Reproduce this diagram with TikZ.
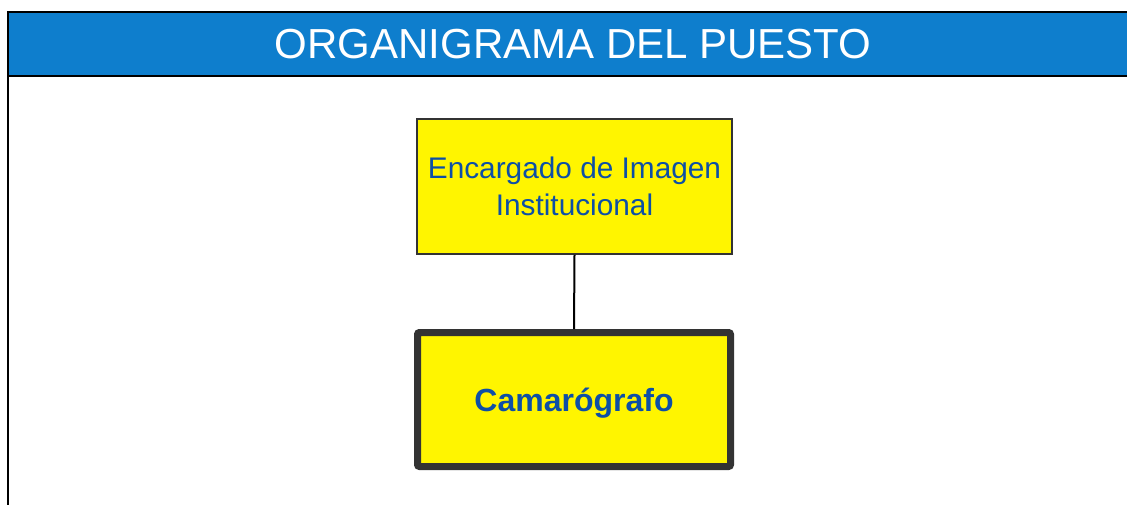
\documentclass[tikz,border=0pt]{standalone}
\usepackage{fontspec}
\setmainfont{Liberation Sans}
\usepackage{xcolor}
\usepackage{tikz}
\usetikzlibrary{positioning}

\definecolor{barra}{HTML}{0E7ECD}
\definecolor{amarillo}{HTML}{FFF500}
\definecolor{azultexto}{HTML}{0D4FA6}
\definecolor{gris}{HTML}{333333}

\begin{document}
\begin{tikzpicture}[
  x=1pt, y=-1pt,
  jefe/.style={
    rectangle,
    draw=gris,
    fill=amarillo,
    line width=1.5pt,
    minimum width=315pt,
    minimum height=135pt,
    align=center,
    text=azultexto,
    font=\fontsize{29.8}{37}\selectfont
  },
  puesto/.style={
    rectangle,
    draw=gris,
    fill=amarillo,
    line width=7pt,
    rounded corners=2pt,
    minimum width=313pt,
    minimum height=134pt,
    text depth=0pt,
    align=center,
    text=azultexto,
    font=\bfseries\fontsize{32}{37}\selectfont
  },
  titulo/.style={
    text=white,
    font=\fontsize{42}{48}\selectfont
  }
]
\useasboundingbox (0,0) rectangle (1127,504);

% --- ENCABEZADO ---
\fill[barra] (8,12) rectangle (1140,76);
\draw[line width=2pt] (8,520) -- (8,12) -- (1140,12);
\draw[line width=2pt] (8,76) -- (1140,76);
\node[titulo] (titulo) at (573,44) {ORGANIGRAMA DEL PUESTO};

% --- ORGANIGRAMA ---
\node[jefe] (encargado) at (574.5,186.5) {Encargado de Imagen\\Institucional};
\node[puesto] (camarografo) at (574,399.5) {Camarógrafo};

\draw[line width=2pt] (encargado.south) -- (camarografo.north);

\end{tikzpicture}
\end{document}
